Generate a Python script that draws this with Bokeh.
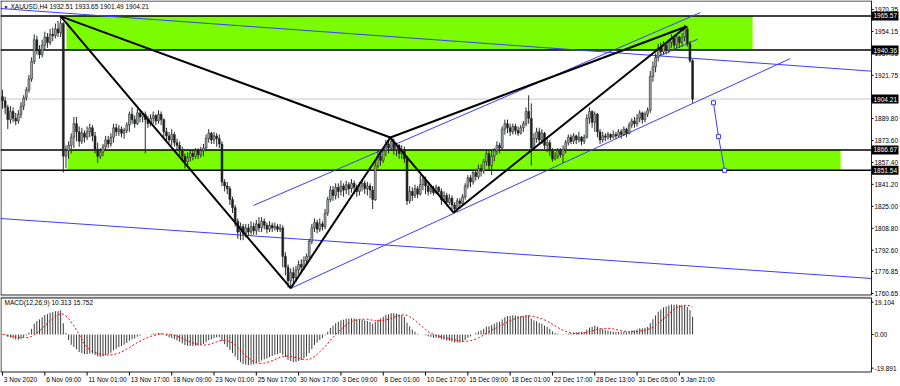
import pandas as pd
from bokeh.plotting import figure
from bokeh.models import Range1d, ColumnDataSource
from bokeh.core.properties import value
from bokeh.layouts import column
from bokeh.embed import file_html
from bokeh.resources import INLINE

# ---------------- data (XAUUSD H4) ----------------
first_open = 1906.0
closes = [
    1903, 1898, 1889, 1895, 1890, 1888, 1893, 1899, 1905, 1911,
    1919, 1932, 1948, 1940, 1937, 1944, 1950, 1946, 1952, 1951,
    1956, 1953, 1960, 1862, 1866, 1870, 1876, 1886, 1880, 1873,
    1879, 1876, 1880, 1883, 1877, 1867, 1862, 1865, 1869, 1874,
    1871, 1876, 1883, 1880, 1882, 1879, 1881, 1885, 1893, 1889,
    1886, 1894, 1891, 1893, 1889, 1886, 1890, 1892, 1888, 1893,
    1889, 1880, 1877, 1874, 1878, 1872, 1870, 1866, 1862, 1858,
    1861, 1864, 1862, 1866, 1863, 1866, 1868, 1875, 1879, 1874,
    1877, 1875, 1871, 1843, 1840, 1838, 1830, 1824, 1814, 1806,
    1810, 1805, 1809, 1806, 1810, 1807, 1812, 1809, 1814, 1811,
    1808, 1811, 1809, 1810, 1808, 1809, 1788, 1780, 1770, 1776,
    1772, 1778, 1782, 1780, 1785, 1788, 1799, 1809, 1813, 1808,
    1812, 1810, 1820, 1830, 1837, 1833, 1839, 1836, 1840, 1837,
    1841, 1838, 1842, 1839, 1836, 1840, 1842, 1838, 1840, 1837,
    1830, 1855, 1862, 1859, 1866, 1871, 1868, 1873, 1867, 1870,
    1864, 1867, 1860, 1829, 1836, 1833, 1838, 1834, 1841, 1845,
    1840, 1836, 1838, 1835, 1839, 1836, 1830, 1833, 1828, 1831,
    1826, 1823, 1829, 1827, 1832, 1840, 1846, 1843, 1850, 1847,
    1853, 1851, 1858, 1864, 1855, 1862, 1866, 1870, 1868, 1882,
    1886, 1883, 1880, 1884, 1881, 1879, 1883, 1886, 1895, 1890,
    1868, 1875, 1880, 1874, 1879, 1870, 1872, 1866, 1860, 1862,
    1866, 1863, 1867, 1872, 1876, 1873, 1877, 1874, 1876, 1873,
    1876, 1890, 1895, 1887, 1893, 1880, 1874, 1877, 1876, 1878,
    1876, 1878, 1877, 1880, 1878, 1882, 1879, 1885, 1888, 1886,
    1890, 1894, 1889, 1893, 1896, 1921, 1928, 1935, 1942, 1939,
    1944, 1940, 1946, 1949, 1944, 1950, 1946, 1950, 1956, 1945,
    1932.51, 1904.21,
]
highs = [
    1911, 1906, 1900, 1899, 1898, 1894, 1896, 1902, 1907, 1913,
    1922, 1935, 1952, 1951, 1944, 1948, 1954, 1953, 1956, 1957,
    1960, 1962, 1965.6, 1961, 1870, 1873, 1879, 1891, 1891, 1884,
    1883, 1881, 1884, 1886, 1885, 1880, 1872, 1868, 1871, 1877,
    1877, 1879, 1886, 1886, 1885, 1884, 1883, 1887, 1895, 1898,
    1892, 1897, 1896, 1895, 1895, 1892, 1893, 1895, 1893, 1896,
    1895, 1890, 1883, 1880, 1882, 1880, 1875, 1873, 1869, 1864,
    1865, 1867, 1867, 1868, 1868, 1869, 1871, 1878, 1882, 1880,
    1880, 1879, 1878, 1873, 1845, 1843, 1840, 1832, 1826, 1816,
    1813, 1812, 1812, 1812, 1814, 1813, 1815, 1817, 1817, 1816,
    1813, 1814, 1813, 1813, 1812, 1812, 1811, 1791, 1782, 1779,
    1780, 1781, 1785, 1786, 1788, 1790, 1801, 1812, 1816, 1815,
    1816, 1814, 1823, 1832, 1840, 1840, 1842, 1842, 1844, 1842,
    1844, 1843, 1845, 1844, 1841, 1843, 1845, 1844, 1843, 1842,
    1840, 1858, 1866, 1865, 1869, 1874, 1875, 1876, 1875, 1872,
    1871, 1870, 1869, 1862, 1840, 1839, 1841, 1840, 1848, 1848,
    1847, 1842, 1841, 1840, 1841, 1840, 1838, 1836, 1835, 1834,
    1833, 1828, 1831, 1831, 1834, 1842, 1848, 1848, 1852, 1852,
    1856, 1856, 1860, 1866, 1866, 1866, 1868, 1873, 1872, 1884,
    1889, 1889, 1886, 1886, 1886, 1884, 1885, 1888, 1898, 1907,
    1901, 1879, 1883, 1883, 1882, 1880, 1875, 1874, 1868, 1865,
    1868, 1868, 1870, 1874, 1878, 1878, 1879, 1878, 1880, 1877,
    1878, 1893, 1898, 1896, 1895, 1894, 1882, 1880, 1879, 1880,
    1879, 1881, 1880, 1882, 1882, 1884, 1883, 1887, 1890, 1891,
    1893, 1896, 1895, 1895, 1898, 1925, 1932, 1938, 1945, 1946,
    1947, 1946, 1948, 1952, 1951, 1952, 1951, 1953, 1959, 1958,
    1947, 1933.65,
]
lows = [
    1897, 1893, 1882, 1886, 1887, 1885, 1886, 1890, 1896, 1903,
    1909, 1917, 1930, 1937, 1934, 1935, 1941, 1942, 1944, 1947,
    1949, 1950, 1950, 1850, 1853, 1860, 1864, 1868, 1873, 1869,
    1871, 1872, 1874, 1876, 1873, 1864, 1857, 1860, 1862, 1866,
    1868, 1869, 1872, 1877, 1877, 1876, 1875, 1879, 1880, 1886,
    1883, 1885, 1887, 1887, 1864, 1883, 1884, 1886, 1885, 1886,
    1885, 1876, 1873, 1872, 1870, 1869, 1866, 1862, 1858, 1853,
    1855, 1858, 1859, 1860, 1860, 1861, 1862, 1866, 1872, 1871,
    1871, 1869, 1868, 1840, 1836, 1834, 1826, 1820, 1810, 1801,
    1800, 1800, 1802, 1803, 1804, 1804, 1804, 1806, 1806, 1808,
    1805, 1806, 1806, 1807, 1806, 1806, 1780, 1774, 1765, 1764,
    1768, 1769, 1775, 1777, 1778, 1781, 1786, 1797, 1806, 1805,
    1806, 1807, 1808, 1818, 1828, 1829, 1830, 1831, 1833, 1832,
    1834, 1833, 1835, 1834, 1832, 1833, 1836, 1834, 1833, 1831,
    1823, 1829, 1853, 1855, 1857, 1862, 1864, 1866, 1863, 1862,
    1860, 1860, 1857, 1826, 1827, 1829, 1831, 1831, 1833, 1837,
    1834, 1833, 1834, 1833, 1834, 1833, 1826, 1828, 1825, 1826,
    1822, 1820, 1821, 1823, 1825, 1830, 1838, 1839, 1841, 1844,
    1845, 1847, 1849, 1855, 1852, 1848, 1858, 1863, 1864, 1867,
    1878, 1879, 1877, 1878, 1878, 1877, 1878, 1880, 1884, 1886,
    1855, 1866, 1872, 1871, 1871, 1867, 1865, 1862, 1858, 1859,
    1860, 1861, 1857, 1864, 1870, 1871, 1871, 1871, 1872, 1870,
    1871, 1875, 1886, 1883, 1880, 1876, 1871, 1872, 1873, 1874,
    1874, 1875, 1875, 1876, 1875, 1877, 1876, 1878, 1883, 1883,
    1884, 1887, 1886, 1887, 1891, 1894, 1917, 1924, 1932, 1936,
    1937, 1937, 1938, 1942, 1941, 1942, 1942, 1943, 1947, 1943,
    1931, 1901.49,
]

# horizontal levels / zones
zone_levels = [1965.57, 1940.36, 1866.67, 1851.54]
zone_top = [1965.57, 1866.67]
zone_bottom = [1940.36, 1851.54]
zone_start = [24.2, 24.6]
zone_end = [283.7, 317.0]
last_price = 1904.21
marked_levels = [1965.57, 1940.36, 1904.21, 1866.67, 1851.54]

# pattern anchor points (bar index, price)
pat_x = [22, 109, 146.7, 170.6, 258.7]
pat_y = [1965.3, 1764.5, 1875.8, 1820.4, 1957.8]

# blue trend lines: (x0, y0, x1, y1) in (bar, price)
blue_lines = [
    (-0.76, 1971.09, 328.7, 1924.8),
    (-0.76, 1815.99, 328.7, 1771.7),
    (108.9, 1764.29, 298.0, 1934.16),
    (94.9, 1825.59, 264.0, 1968.1),
    (247.0, 1935.0, 263.0, 1948.5),
]
proj_x = [268.9, 270.8, 273.1]
proj_y = [1901.49, 1876.5, 1851.54]

price_ticks = [1970.35, 1954.15, 1937.95, 1921.75, 1889.80, 1873.60, 1857.40,
               1841.20, 1825.00, 1808.80, 1792.60, 1776.85, 1760.65]
time_labels = ["3 Nov 2020", "6 Nov 09:00", "11 Nov 01:00", "13 Nov 17:00", "18 Nov 09:00",
               "23 Nov 01:00", "25 Nov 17:00", "30 Nov 17:00", "3 Dec 09:00", "8 Dec 01:00",
               "10 Dec 17:00", "15 Dec 09:00", "18 Dec 01:00", "22 Dec 17:00", "28 Dec 13:00",
               "31 Dec 05:00", "5 Jan 21:00"]
time_label_step = 16
macd_ticks = [19.104, 0.0, -19.891]
macd_tick_text = ["19.104", "0.00", "-19.891"]
header_text = "XAUUSD,H4  1932.51 1933.65 1901.49 1904.21"
macd_text = "MACD(12,26,9) 10.313 15.752"

# ---------------- pixel <-> data helpers (layout only) ----------------
PXB = 2.644            # pixels per bar


def bx(px):
    return (px - 2) / PXB


def py(ypx):            # main panel, page y pixel -> price
    return 1970.35 - (ypx - 9) / 1.354


def my(ypx):            # macd panel, page y pixel -> value
    return (334.0 - ypx) * 0.5908


AXIS_X = bx(871)
FONT = value("Liberation Sans")
FS = value("6.5px")

# ---------------- derived ----------------
n = len(closes)
idx = list(range(n))
opens = [first_open] + closes[:-1]
top = [max(o, c) for o, c in zip(opens, closes)]
bot = [min(o, c) for o, c in zip(opens, closes)]
fill = ["#a3abab" if c >= o else "#1c1c1c" for o, c in zip(opens, closes)]
src = ColumnDataSource(dict(x=idx, h=highs, l=lows, top=top, bot=bot, fill=fill))

s = pd.Series(closes, dtype=float)
macd = (s.ewm(span=12, adjust=False).mean() - s.ewm(span=26, adjust=False).mean())
signal = macd.rolling(9, min_periods=1).mean()

xr = Range1d(bx(0), bx(900))


def bare(fig):
    fig.grid.visible = False
    fig.outline_line_color = None
    fig.background_fill_color = "white"
    fig.border_fill_color = "white"
    fig.min_border_left = fig.min_border_right = fig.min_border_top = fig.min_border_bottom = 0


# ---------------- main price panel ----------------
p1 = figure(width=900, height=296, x_range=xr, y_range=Range1d(py(296), py(0)),
            output_backend="svg", toolbar_location=None,
            x_axis_location=None, y_axis_location=None)
bare(p1)

p1.quad(left=zone_start, right=zone_end, top=zone_top, bottom=zone_bottom,
        fill_color="#7cfc00", line_color=None)
p1.segment(x0=[bx(0)], y0=[last_price], x1=[AXIS_X], y1=[last_price],
           line_color="#c8c8c8", line_width=1)
p1.segment(x0=[bx(0)] * len(zone_levels), y0=zone_levels, x1=[AXIS_X] * len(zone_levels),
           y1=zone_levels, line_color="black", line_width=1.5)

for (x0, y0, x1, y1) in blue_lines:
    p1.line([x0, x1], [y0, y1], line_color="#3c3cff", line_width=1)

p1.segment(x0="x", y0="l", x1="x", y1="h", source=src, line_color="#2a2a2a", line_width=1)
p1.vbar(x="x", width=0.72, top="top", bottom="bot", fill_color="fill",
        line_color="#2a2a2a", line_width=0.6, source=src)

X, A, B, C, D = list(zip(pat_x, pat_y))
for a, b in [(X, A), (X, B), (A, B), (B, C), (B, D), (C, D)]:
    p1.line([a[0], b[0]], [a[1], b[1]], line_color="black", line_width=2)

p1.line(proj_x, proj_y, line_color="#3c3cff", line_width=1)
p1.scatter(proj_x, proj_y, marker="square", size=4, fill_color="white", line_color="#3c3cff")

# panel frame: left, top, bottom, right (axis line) and separator
p1.segment(x0=[bx(0.5), bx(0), bx(0), AXIS_X], y0=[py(0), py(0.5), py(294.5), py(0)],
           x1=[bx(0.5), AXIS_X, AXIS_X, AXIS_X], y1=[py(294.5), py(0.5), py(294.5), py(294.5)],
           line_color="#202020", line_width=1)
p1.quad(left=[bx(0)], right=[AXIS_X], top=[py(295)], bottom=[py(296)],
        fill_color="#a0a0a0", line_color=None)

# right price axis
p1.segment(x0=[AXIS_X] * len(price_ticks), y0=price_ticks, x1=[bx(873)] * len(price_ticks),
           y1=price_ticks, line_color="black", line_width=1)
p1.text(x=[bx(874)] * len(price_ticks), y=price_ticks, text=[f"{t:.2f}" for t in price_ticks],
        text_font=FONT, text_font_size=FS, text_baseline="middle", text_align="left",
        text_color="black")
half = 4.5 / 1.354
p1.quad(left=[AXIS_X] * len(marked_levels), right=[bx(898)] * len(marked_levels),
        top=[v + half for v in marked_levels], bottom=[v - half for v in marked_levels],
        fill_color="black", line_color=None)
p1.text(x=[bx(873)] * len(marked_levels), y=marked_levels, text=[f"{v:.2f}" for v in marked_levels],
        text_font=FONT, text_font_size=FS, text_baseline="middle", text_align="left",
        text_color="white")

p1.text(x=[bx(3)], y=[py(6)], text=["\u25bc"], text_font=FONT, text_font_size=value("5px"),
        text_baseline="middle", text_color="black")
p1.text(x=[bx(10)], y=[py(6)], text=[header_text], text_font=FONT, text_font_size=FS,
        text_baseline="middle", text_color="black")

# ---------------- MACD panel ----------------
p2 = figure(width=900, height=90, x_range=xr, y_range=Range1d(my(386), my(296)),
            output_backend="svg", toolbar_location=None,
            x_axis_location=None, y_axis_location=None)
bare(p2)

p2.quad(left=[bx(0)], right=[AXIS_X], top=[my(296)], bottom=[my(297)],
        fill_color="#a0a0a0", line_color=None)
p2.segment(x0=idx, y0=[0] * n, x1=idx, y1=list(macd), line_color="#3a3a3a", line_width=1)
p2.line(idx, list(signal), line_color="red", line_width=1, line_dash="2 2")

p2.segment(x0=[bx(0.5), bx(0), bx(0), AXIS_X], y0=[my(297.5), my(297.5), my(371.5), my(297.5)],
           x1=[bx(0.5), AXIS_X, AXIS_X, AXIS_X], y1=[my(371.5), my(297.5), my(371.5), my(371.5)],
           line_color="#202020", line_width=1)

p2.segment(x0=[AXIS_X] * 3, y0=macd_ticks, x1=[bx(873)] * 3, y1=macd_ticks,
           line_color="black", line_width=1)
p2.text(x=[bx(874)] * 3, y=macd_ticks, text=macd_tick_text, text_font=FONT, text_font_size=FS,
        text_baseline="middle", text_align="left", text_color="black")

tpos = [i * time_label_step for i in range(len(time_labels))]
p2.segment(x0=tpos, y0=[my(371.5)] * len(tpos), x1=tpos, y1=[my(375)] * len(tpos),
           line_color="black", line_width=1)
p2.text(x=[t + 0.5 for t in tpos], y=[my(379)] * len(tpos), text=time_labels, text_font=FONT,
        text_font_size=FS, text_baseline="middle", text_align="left", text_color="black")

p2.text(x=[bx(4)], y=[my(302)], text=[macd_text], text_font=FONT, text_font_size=FS,
        text_baseline="middle", text_color="black")

layout = column(p1, p2, spacing=0)
open("out.html", "w").write(file_html(layout, INLINE))
